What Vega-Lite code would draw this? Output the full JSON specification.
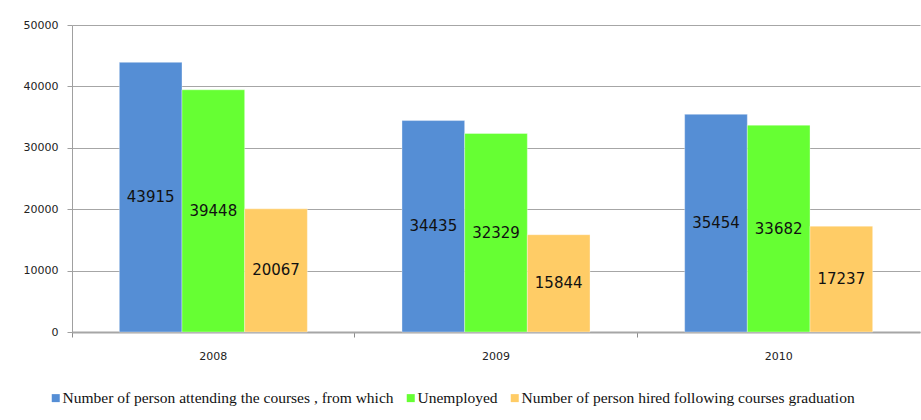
{
  "$schema": "https://vega.github.io/schema/vega-lite/v6.json",
  "autosize": {"type": "none"},
  "width": 848,
  "height": 307,
  "padding": {"left": 72, "top": 25, "right": 1, "bottom": 88},
  "background": "#ffffff",
  "config": {
    "view": {"stroke": null},
    "font": "DejaVu Sans"
  },
  "data": {
    "values": [
      {"year": "2008", "series": "Number of person attending the courses , from which", "value": 43915},
      {"year": "2008", "series": "Unemployed", "value": 39448},
      {"year": "2008", "series": "Number of person hired following courses graduation", "value": 20067},
      {"year": "2009", "series": "Number of person attending the courses , from which", "value": 34435},
      {"year": "2009", "series": "Unemployed", "value": 32329},
      {"year": "2009", "series": "Number of person hired following courses graduation", "value": 15844},
      {"year": "2010", "series": "Number of person attending the courses , from which", "value": 35454},
      {"year": "2010", "series": "Unemployed", "value": 33682},
      {"year": "2010", "series": "Number of person hired following courses graduation", "value": 17237}
    ]
  },
  "encoding": {
    "x": {
      "field": "year",
      "type": "nominal",
      "scale": {"paddingInner": 0, "paddingOuter": 0},
      "axis": {
        "title": null,
        "labelAngle": 0,
        "labelFont": "DejaVu Sans",
        "labelFontSize": 11,
        "labelColor": "#222222",
        "labelPadding": 13,
        "bandPosition": 0,
        "tickSize": 5,
        "tickColor": "#8c8c8c",
        "domainColor": "#a6a6a6",
        "domainWidth": 2,
        "grid": false
      }
    },
    "xOffset": {
      "field": "series",
      "type": "nominal",
      "sort": [
        "Number of person attending the courses , from which",
        "Unemployed",
        "Number of person hired following courses graduation"
      ],
      "scale": {"paddingInner": 0, "paddingOuter": 0.755}
    }
  },
  "layer": [
    {
      "mark": {"type": "bar", "stroke": "#ffffff", "strokeOpacity": 0.35, "strokeWidth": 1},
      "encoding": {
        "y": {
          "field": "value",
          "type": "quantitative",
          "scale": {"domain": [0, 50000], "nice": false},
          "axis": {
            "title": null,
            "values": [0, 10000, 20000, 30000, 40000, 50000],
            "format": "d",
            "labelFont": "DejaVu Sans",
            "labelFontSize": 11,
            "labelColor": "#222222",
            "labelPadding": 9,
            "tickSize": 5,
            "tickColor": "#a0a0a0",
            "domainColor": "#a0a0a0",
            "gridColor": "#a6a6a6",
            "gridWidth": 1
          }
        },
        "color": {
          "field": "series",
          "type": "nominal",
          "sort": [
            "Number of person attending the courses , from which",
            "Unemployed",
            "Number of person hired following courses graduation"
          ],
          "scale": {"range": ["#558ed5", "#66ff33", "#ffcc66"]},
          "legend": {
            "title": null,
            "orient": "none",
            "direction": "horizontal",
            "legendX": -24,
            "legendY": 365,
            "symbolType": "square",
            "symbolSize": 64,
            "symbolStrokeWidth": 0,
            "symbolOffset": 0,
            "labelOffset": -1,
            "columnPadding": 9,
            "labelFont": "Liberation Serif",
            "labelFontSize": 15.5,
            "labelColor": "#111111",
            "labelLimit": 0
          }
        }
      }
    },
    {
      "transform": [{"calculate": "datum.value / 2", "as": "mid"}],
      "mark": {"type": "text", "font": "DejaVu Sans", "fontSize": 15, "color": "#111111", "baseline": "middle"},
      "encoding": {
        "y": {"field": "mid", "type": "quantitative"},
        "text": {"field": "value", "type": "quantitative", "format": "d"}
      }
    }
  ]
}
